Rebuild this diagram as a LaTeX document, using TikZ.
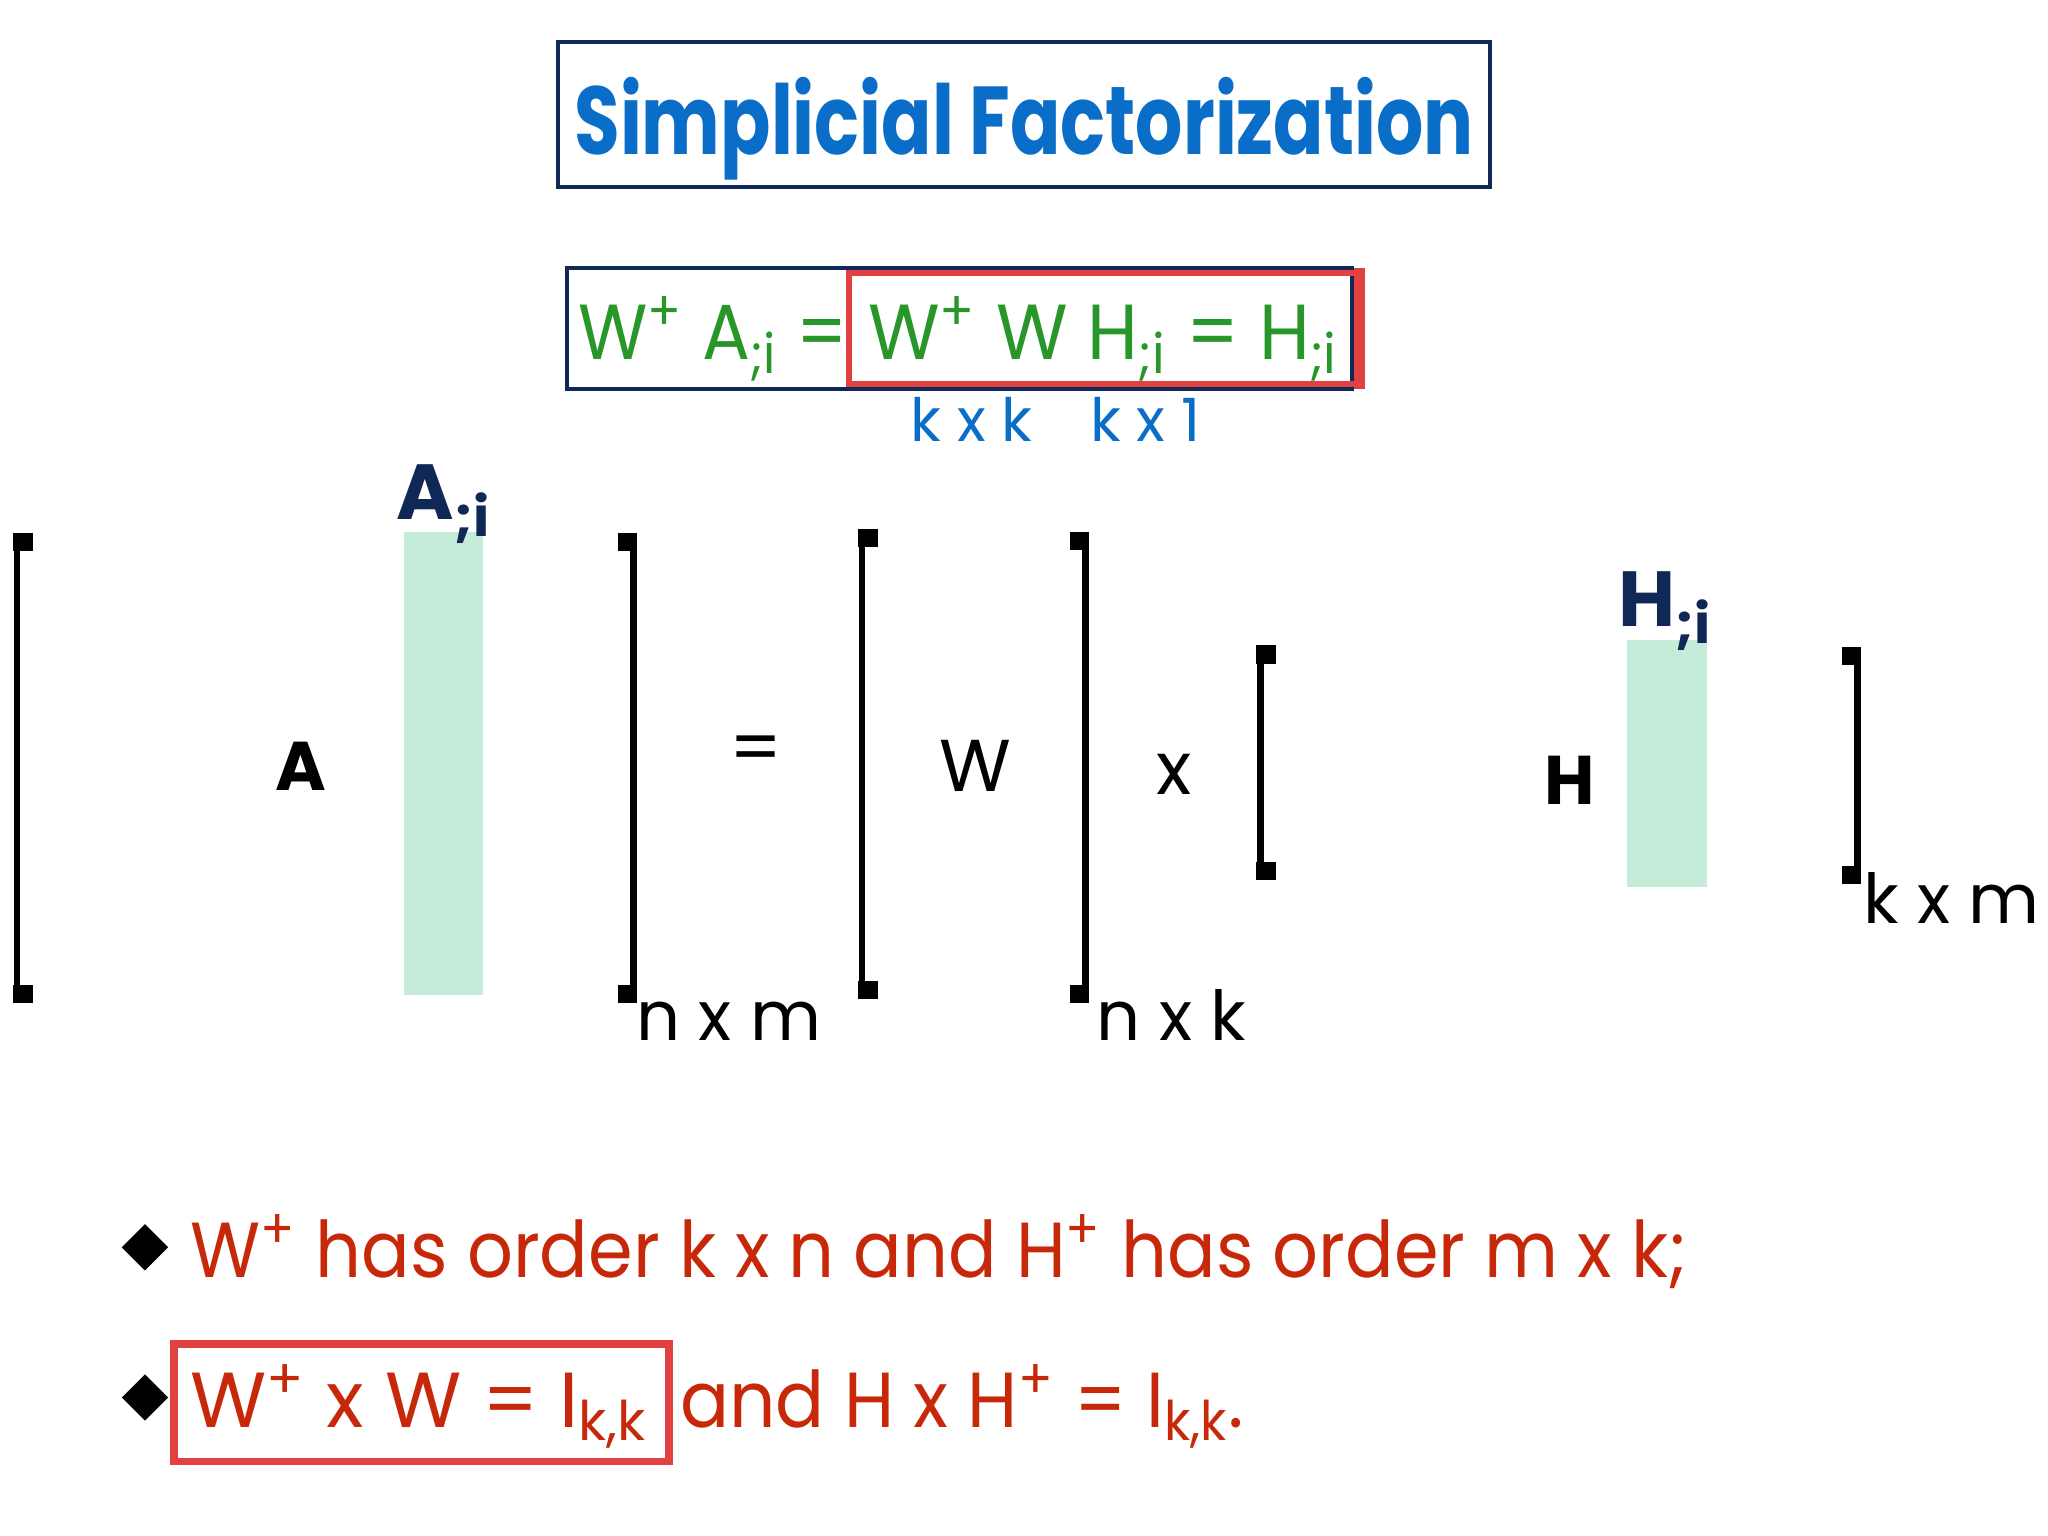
\documentclass[tikz,border=0pt]{standalone}
\usepackage{fontspec}
\setmainfont{Poppins}
\usetikzlibrary{shapes.geometric}
\definecolor{tblue}{RGB}{10,110,200}
\definecolor{navy}{RGB}{15,40,85}
\definecolor{grn}{RGB}{40,150,40}
\definecolor{rd}{RGB}{200,40,10}
\definecolor{bred}{RGB}{225,65,65}
\definecolor{mint}{RGB}{196,236,216}
\tikzset{x=0.01cm,y=-0.01cm,
 br/.style={line width=0.05cm},
 fs/.style={font=\fontsize{#1}{#1}\selectfont},
 lab/.style={inner sep=0pt,anchor=base}}
\newcommand{\lbr}[4]{% name x ytop ybot (left bracket)
 \draw[br] (#2,#3) -- (#2,#4);
 \fill (#2-3,#3) rectangle (#2+12,#3+14);
 \fill (#2-3,#4-14) rectangle (#2+12,#4);}
\newcommand{\rbr}[4]{%
 \draw[br] (#2,#3) -- (#2,#4);
 \fill (#2+3,#3) rectangle (#2-12,#3+14);
 \fill (#2+3,#4-14) rectangle (#2-12,#4);}
\begin{document}
\begin{tikzpicture}
\useasboundingbox[fill=white] (0,0) rectangle (1568,1176);
% title
\draw[navy,line width=0.03cm] (427,32) rectangle (1141,143);
\node[lab,tblue,fs=21,xscale=0.77] (title) at (784,118) {\bfseries Simplicial Factorization};
% equation
\draw[navy,line width=0.03cm] (434,205) rectangle (1035,298);
\draw[bred,line width=0.045cm] (650,209) rectangle (1040,294);
\fill[bred] (1037,205) rectangle (1045,298);
\node[lab,grn,fs=17,anchor=base west,xscale=0.91] (eq1) at (442,275) {W\textsuperscript{+} A\textsubscript{;i} =};
\node[lab,grn,fs=17,anchor=base west,xscale=0.94] (eq2) at (664,275) {W\textsuperscript{+} W H\textsubscript{;i} = H\textsubscript{;i}};
\node[lab,tblue,fs=13] (d1) at (744,338) {k x k};
\node[lab,tblue,fs=13] (d2) at (877,338) {k x 1};
% matrix A
\fill[mint] (309,407) rectangle (370,762);
\lbr{a}{13}{408}{768}
\rbr{b}{485}{408}{768}
\node[lab,navy,fs=17] (ai) at (340,398) {\bfseries A\textsubscript{;i}};
\node[lab,fs=15] (A) at (230,605) {\bfseries A};
\node[lab,fs=15] (nm) at (558,797) {n x m};
\node[lab,fs=16] (eqs) at (579,592) {=};
% W
\lbr{c}{660}{405}{765}
\rbr{d}{831}{407}{768}
\node[lab,fs=16] (W) at (747,606) {W};
\node[lab,fs=15] (nk) at (897,797) {n x k};
\node[lab,fs=16] (x1) at (899,608) {x};
% H
\fill[mint] (1246,490) rectangle (1307,679);
\lbr{e}{965}{494}{674}
\rbr{f}{1422}{495}{677}
\node[lab,navy,fs=17] (hi) at (1275,480) {\bfseries H\textsubscript{;i}};
\node[lab,fs=15] (H) at (1202,616) {\bfseries H};
\node[lab,fs=15] (km) at (1494,707) {k x m};
% bullets
\node[diamond,fill=black,inner sep=0pt,minimum size=0.36cm] (b1) at (111,955) {};
\node[diamond,fill=black,inner sep=0pt,minimum size=0.36cm] (b2) at (111,1070) {};
\node[lab,rd,fs=17,anchor=base west,xscale=0.92] (t1) at (145,978) {W\textsuperscript{+} has order k x n and H\textsuperscript{+} has order m x k;};
\draw[bred,line width=0.06cm] (133,1029) rectangle (512,1119);
\node[lab,rd,fs=17,anchor=base west] (t2) at (145,1093) {W\textsuperscript{+} x W = I\textsubscript{k,k}};
\node[lab,rd,fs=17,anchor=base west,xscale=0.93] (t3) at (520,1093) {and H x H\textsuperscript{+} = I\textsubscript{k,k}.};
\end{tikzpicture}
\end{document}
